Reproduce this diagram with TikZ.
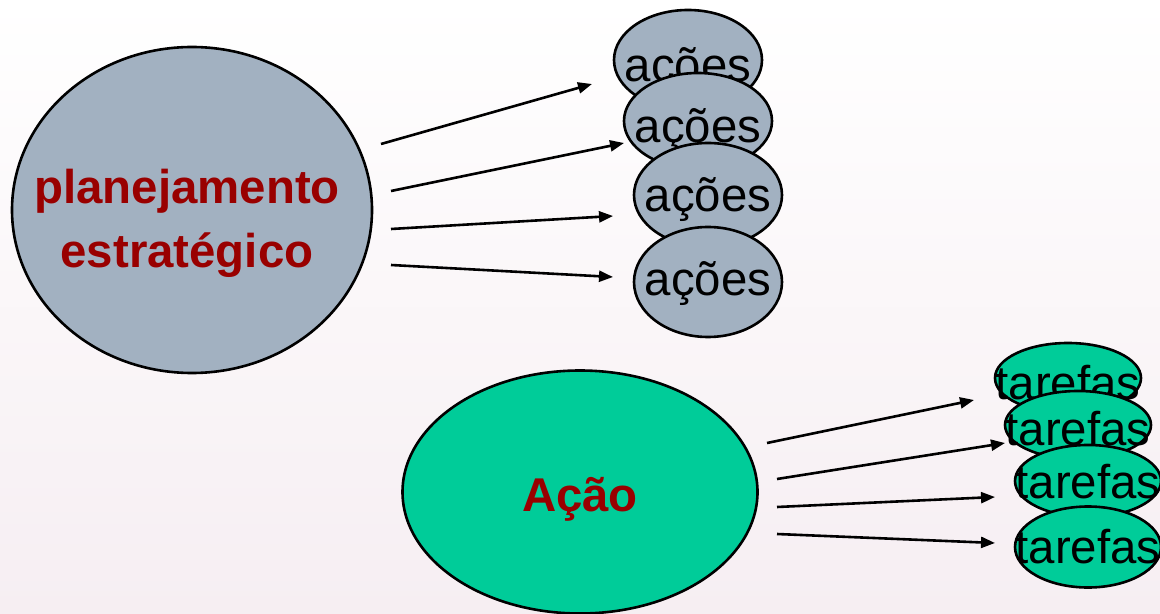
\documentclass[tikz,border=0pt]{standalone}
\usepackage{fontspec}
\setmainfont{Liberation Sans}
\usetikzlibrary{arrows.meta,shapes.geometric}
\definecolor{grayblue}{RGB}{162,177,193}
\definecolor{seagreen}{RGB}{0,204,153}
\definecolor{darkred}{RGB}{153,0,0}
\definecolor{bgpink}{RGB}{246,238,242}
\newcommand{\bigfont}{\fontsize{23.7}{32}\selectfont}

\begin{document}
\begin{tikzpicture}[x=0.5pt,y=-0.5pt,>={Triangle[length=7pt,width=5.5pt]},line width=1.3pt]
        \tikzstyle{bubble}=[ellipse,draw=black,line width=1.3pt,inner sep=0pt]
        \tikzstyle{every label}=[font=\bigfont,text=black,inner sep=0pt]
        \tikzstyle{acoes}=[bubble,fill=grayblue,minimum width=74pt,label={[yshift=#1]center:ações}]
        \tikzstyle{tarefas}=[bubble,fill=seagreen,minimum width=73pt,label={[yshift=#1]center:tarefas}]
        \shade[top color=white,bottom color=bgpink] (0,0) rectangle (1160,614);
        \useasboundingbox (0,0) rectangle (1160,614);
        % big ones
        \node[bubble,fill=grayblue,minimum width=180pt,minimum height=163pt,
              label={[font=\bfseries\bigfont,text=darkred,align=center,xshift=-2.5pt,yshift=-6.5pt]center:planejamento\\estratégico}] (plan) at (192,210) {};
        \node[bubble,fill=seagreen,minimum width=177.5pt,minimum height=121.5pt,
              label={[font=\bfseries\bigfont,text=darkred,yshift=-3.5pt]center:Ação}] (acao) at (580,492) {};
        % acoes
        \node[acoes=-5pt,minimum height=50pt] (ac1) at (688,60) {};
        \node[acoes=-5pt,minimum height=48pt] (ac2) at (698,121) {};
        \node[acoes=-2.5pt,minimum height=52pt] (ac3) at (708,195) {};
        \node[acoes=-1pt,minimum height=55pt] (ac4) at (708,282) {};
        % tarefas
        \node[tarefas=-2.5pt,minimum height=35pt] (ta1) at (1068,378) {};
        \node[tarefas=-2pt,minimum height=34pt] (ta2) at (1078,425) {};
        \node[tarefas=-0.5pt,minimum height=36pt] (ta3) at (1088,481) {};
        \node[tarefas=0pt,minimum height=40.5pt] (ta4) at (1088,547) {};
        % arrow ends
        \coordinate (s1) at (381,144); \coordinate (e1) at (592,84);
        \coordinate (s2) at (391,191); \coordinate (e2) at (624,143);
        \coordinate (s3) at (391,229); \coordinate (e3) at (613,216);
        \coordinate (s4) at (391,265); \coordinate (e4) at (613,277);
        \coordinate (u1) at (767,443); \coordinate (f1) at (974,400);
        \coordinate (u2) at (777,479); \coordinate (f2) at (1005,443);
        \coordinate (u3) at (777,507); \coordinate (f3) at (995,497);
        \coordinate (u4) at (777,534); \coordinate (f4) at (995,543);
        \foreach \i in {1,...,4} {
            \draw[->] (s\i) -- (e\i);
            \draw[->] (u\i) -- (f\i);
        }
\end{tikzpicture}
\end{document}
